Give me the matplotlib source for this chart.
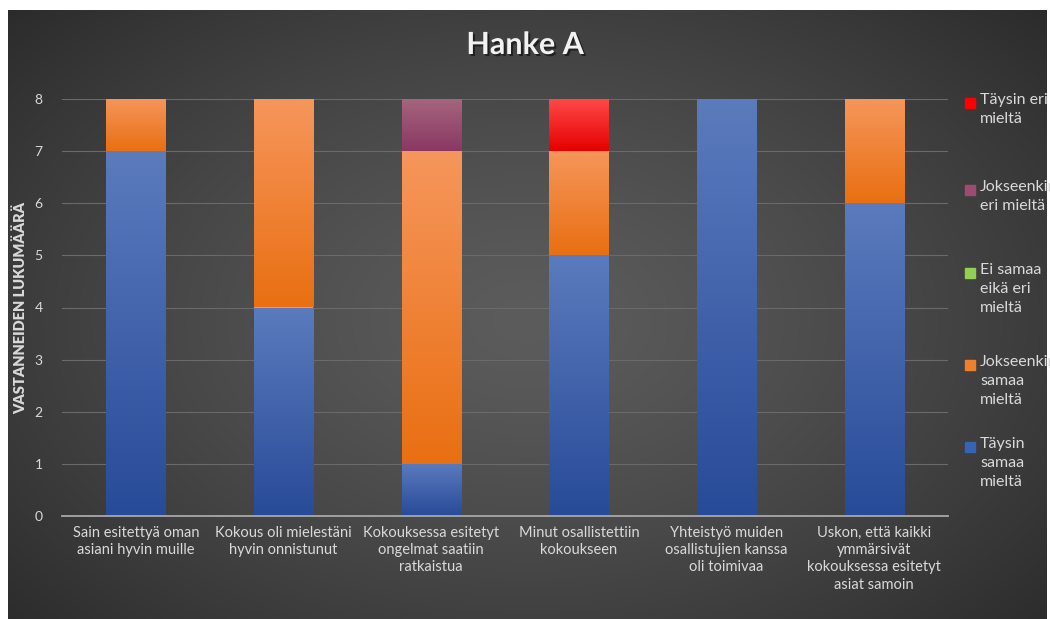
import numpy as np
import matplotlib.pyplot as plt
import matplotlib.patheffects as pe
from matplotlib.colors import LinearSegmentedColormap
from matplotlib.patches import Rectangle

# data
categories = ['Sain esitettyä oman\nasiani hyvin muille',
              'Kokous oli mielestäni\nhyvin onnistunut',
              'Kokouksessa esitetyt\nongelmat saatiin\nratkaistua',
              'Minut osallistettiin\nkokoukseen',
              'Yhteistyö muiden\nosallistujien kanssa\noli toimivaa',
              'Uskon, että kaikki\nymmärsivät\nkokouksessa esitetyt\nasiat samoin']
taysin_samaa = [7, 4, 1, 5, 8, 6]
jokseenkin_samaa = [1, 4, 6, 2, 0, 2]
ei_samaa_eika_eri = [0, 0, 0, 0, 0, 0]
jokseenkin_eri = [0, 0, 1, 0, 0, 0]
taysin_eri = [0, 0, 0, 1, 0, 0]
yticks = [0, 1, 2, 3, 4, 5, 6, 7, 8]
legend_labels = ['Täysin eri\nmieltä', 'Jokseenkin\neri mieltä',
                 'Ei samaa\neikä eri\nmieltä', 'Jokseenkin\nsamaa\nmieltä',
                 'Täysin\nsamaa\nmieltä']

plt.rcParams['font.family'] = ['Lato', 'DejaVu Sans']

W, H = 1050, 619
fig = plt.figure(figsize=(W / 100, H / 100), dpi=100)
fig.patch.set_facecolor('white')

# dark radial background
bg = fig.add_axes([8 / W, 0, 1039 / W, 609 / H], zorder=-10)
yy, xx = np.mgrid[0:609, 0:1039]
d = np.sqrt(((xx - 520) / 720.0) ** 2 + ((yy - 310) / 470.0) ** 2)
d = np.clip(d, 0, 1) ** 1.3
c_in, c_out = np.array([0x5c, 0x5c, 0x5c]) / 255, np.array([0x2a, 0x2a, 0x2a]) / 255
img = c_in[None, None, :] * (1 - d[..., None]) + c_out[None, None, :] * d[..., None]
bg.imshow(img, aspect='auto')
bg.axis('off')

ax = fig.add_axes([62 / W, 103 / H, 886 / W, 417 / H])
ax.set_facecolor('none')

x = np.arange(len(categories))
series = [taysin_samaa, jokseenkin_samaa, ei_samaa_eika_eri, jokseenkin_eri, taysin_eri]
grads = [('#284b99', '#5b7bbd'),
         ('#e96f12', '#f6965c'),
         ('#80be3e', '#a8dd6e'),
         ('#8a3863', '#a6657f'),
         ('#e60000', '#ff4a4a')]
legend_colors = ['#ff0000', '#9e4a73', '#92d050', '#f07f2a', '#3563b5']

bottom = np.zeros(len(categories))
grad = np.linspace(1, 0, 128).reshape(-1, 1)
for vals, (c0, c1) in zip(series, grads):
    vals = np.array(vals, dtype=float)
    bars = ax.bar(x, vals, 0.4, bottom=bottom, color=c1, zorder=3, linewidth=0)
    cmap = LinearSegmentedColormap.from_list('g', [c0, c1])
    for b in bars:
        if b.get_height() <= 0:
            continue
        x0, y0 = b.get_x(), b.get_y()
        im = ax.imshow(grad, extent=[x0, x0 + b.get_width(), y0, y0 + b.get_height()],
                       cmap=cmap, aspect='auto', zorder=4, vmin=0, vmax=1)
        im.set_clip_path(b)
    bottom += vals

ax.set_xlim(-0.5, len(categories) - 0.5)
ax.set_ylim(0, 8)
ax.set_yticks(yticks)
ax.set_xticks(x)
ax.set_xticklabels(categories, fontsize=10.5, color='#d9d9d9', linespacing=1.3)
ax.tick_params(axis='y', length=0, pad=14, labelsize=10, labelcolor='#d9d9d9')
ax.tick_params(axis='x', length=0, pad=7)
ax.grid(axis='y', color='#6a6a6a', lw=0.8, zorder=0)
for s in ['top', 'right', 'left']:
    ax.spines[s].set_visible(False)
ax.spines['bottom'].set_color('#a8a8a8')
ax.spines['bottom'].set_linewidth(1.3)
ax.spines['bottom'].set_zorder(5)
ax.set_ylabel('VASTANNEIDEN LUKUMÄÄRÄ', fontsize=10.5, fontweight='heavy',
              color='#d9d9d9', labelpad=5)

fig.text(525 / W, 1 - 45 / H, 'Hanke A', fontsize=22, fontweight='bold',
         color='#f2f2f2', ha='center', va='center',
         path_effects=[pe.withSimplePatchShadow(offset=(1.5, -1.5), shadow_rgbFace='black', alpha=0.5)])

# legend
leg_y = [103, 190, 273, 365, 447]
for lab, col, yp in zip(legend_labels, legend_colors, leg_y):
    fig.patches.append(Rectangle((965 / W, 1 - (yp + 5) / H), 10 / W, 10 / H,
                                 transform=fig.transFigure, color=col))
    fig.text(980 / W, 1 - (yp - 10) / H, lab, fontsize=11.5, color='#d9d9d9',
             ha='left', va='top', linespacing=1.45)

fig.savefig('out.png', dpi=100)
